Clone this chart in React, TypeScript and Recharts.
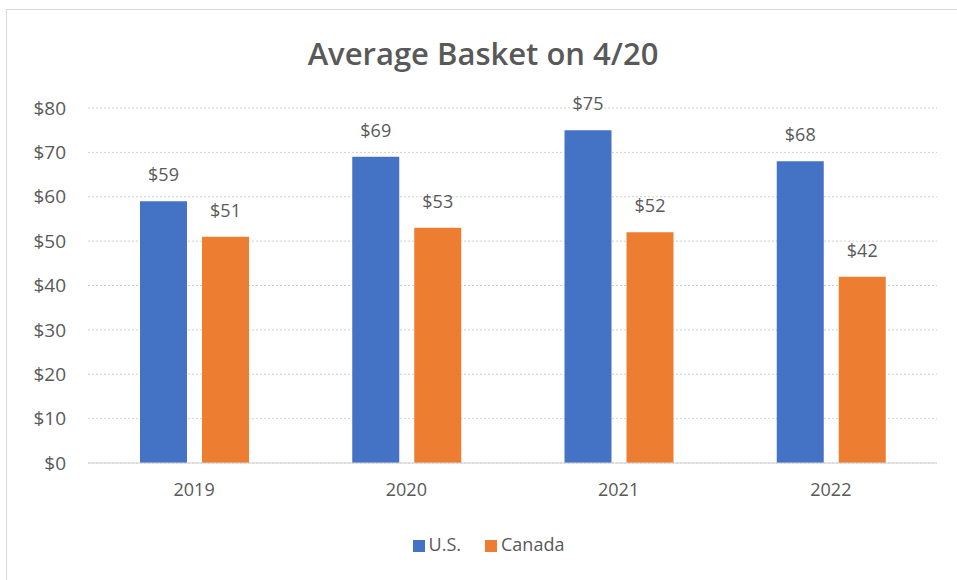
import { BarChart, Bar, XAxis, YAxis, CartesianGrid, Legend, LabelList } from "recharts";

const years = ["2019", "2020", "2021", "2022"];
const usBasket = [59, 69, 75, 68];
const canadaBasket = [51, 53, 52, 42];
const yTicks = [0, 10, 20, 30, 40, 50, 60, 70, 80];

const data = years.map((year, i) => ({
  year,
  us: usBasket[i],
  canada: canadaBasket[i],
}));

const FONT = "'Open Sans', 'Noto Sans', sans-serif";
const TEXT = "#595959";
const money = (v: number) => `$${v}`;
const seriesOrder: Record<string, number> = { us: 0, canada: 1 };

export default function App() {
  return (
    <div style={{ position: "absolute", left: 0, top: 0, width: 957, height: 580, background: "#fff", fontFamily: FONT }}>
      <div
        style={{
          position: "absolute",
          left: 6,
          top: 9,
          width: 960,
          height: 575,
          border: "1px solid #d9d9d9",
          boxSizing: "border-box",
        }}
      />
      <div
        style={{
          position: "absolute",
          left: 0,
          top: 32,
          width: 966,
          textAlign: "center",
          fontSize: 31,
          fontWeight: 600,
          color: TEXT,
        }}
      >
        Average Basket on 4/20
      </div>
      <BarChart
        width={957}
        height={580}
        data={data}
        margin={{ top: 108, right: 20, bottom: 57, left: 28 }}
        barGap={15}
        barSize={47}
        style={{ position: "absolute", left: 0, top: 0 }}
      >
        <CartesianGrid vertical={false} stroke="#d0d0d0" strokeDasharray="2 2" />
        <XAxis
          dataKey="year"
          height={30}
          tickLine={false}
          tickSize={0}
          tickMargin={20}
          axisLine={{ stroke: "#d0d0d0" }}
          tick={{ fontSize: 18, fill: TEXT, fontFamily: FONT }}
        />
        <YAxis
          width={60}
          domain={[0, 80]}
          ticks={yTicks}
          interval={0}
          axisLine={false}
          tickLine={false}
          tickSize={0}
          tickMargin={22}
          tickFormatter={money}
          tick={{ fontSize: 19, fill: TEXT, fontFamily: FONT }}
        />
        <Legend
          verticalAlign="bottom"
          height={30}
          iconType="square"
          iconSize={12}
          itemSorter={(item: any) => seriesOrder[item.dataKey] ?? 0}
          wrapperStyle={{ top: 532, bottom: "auto", left: 46, fontSize: 18, fontFamily: FONT }}
          formatter={(value) => <span style={{ color: TEXT, marginRight: 14 }}>{value}</span>}
        />
        <Bar dataKey="us" name="U.S." fill="#4472C4" isAnimationActive={false}>
          <LabelList dataKey="us" position="top" offset={20} formatter={money} style={{ fontSize: 18, fill: TEXT, fontFamily: FONT }} />
        </Bar>
        <Bar dataKey="canada" name="Canada" fill="#ED7D31" isAnimationActive={false}>
          <LabelList dataKey="canada" position="top" offset={20} formatter={money} style={{ fontSize: 18, fill: TEXT, fontFamily: FONT }} />
        </Bar>
      </BarChart>
    </div>
  );
}
